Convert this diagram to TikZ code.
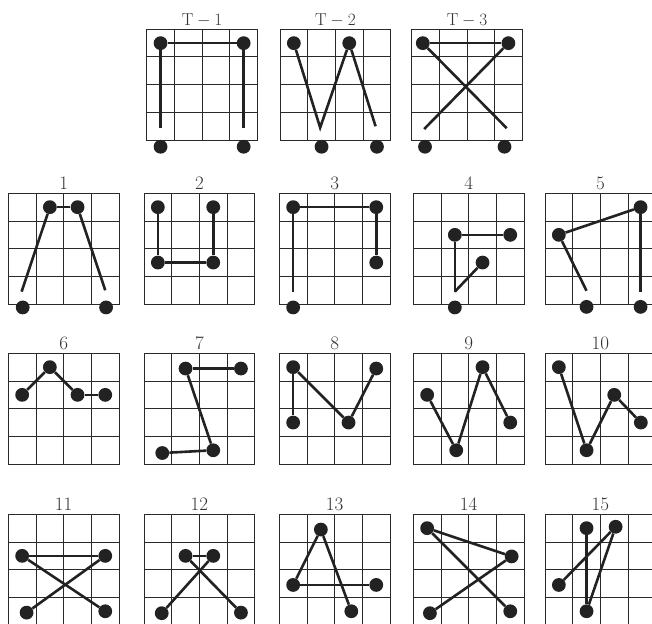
\documentclass[tikz,border=0pt]{standalone}
\usepackage{tikz}
\definecolor{inkc}{HTML}{222222}
\definecolor{gridc}{HTML}{2A2A2A}
\definecolor{textc}{HTML}{333333}
\tikzset{
  gridln/.style={line width=1pt, draw=gridc},
  conn/.style={line width=2.6pt, draw=inkc},
  dot/.style={circle, fill=inkc, inner sep=0pt, minimum size=13.8pt},
  lbl/.style={anchor=base, font=\fontsize{19}{21}\selectfont, text=textc, inner sep=0pt},
  panel/.style={x=27.7pt, y=-27.7pt},
}
\newcommand\cellgrid{\draw[gridln] (0,0) rectangle (4,4)
  (1,0) -- (1,4) (2,0) -- (2,4) (3,0) -- (3,4)
  (0,1) -- (4,1) (0,2) -- (4,2) (0,3) -- (4,3);}
\begin{document}
\begin{tikzpicture}[x=1pt,y=-1pt]
\useasboundingbox (0,0) rectangle (652,623);
\clip (0,0) rectangle (652,623);
% ---------- T-1
\begin{scope}[shift={(146.7,29.3)}, panel]
\cellgrid
\node[lbl] (lt1) at (2,-0.14) {$\mathrm{T}-1$};
\node[dot] (t1a) at (0.5,0.5) {};
\node[dot] (t1b) at (3.5,0.5) {};
\node[dot] (t1c) at (0.5,4.24) {};
\node[dot] (t1d) at (3.5,4.24) {};
\coordinate (t1e) at (0.5,3.55);
\coordinate (t1f) at (3.5,3.55);
\draw[conn] (t1a) -- (t1b);
\draw[conn] (t1a) -- (t1e);
\draw[conn] (t1b) -- (t1f);
\end{scope}
% ---------- T-2
\begin{scope}[shift={(280,29.3)}, panel]
\cellgrid
\node[lbl] (lt2) at (2,-0.14) {$\mathrm{T}-2$};
\node[dot] (t2a) at (0.5,0.5) {};
\node[dot] (t2b) at (2.5,0.5) {};
\node[dot] (t2c) at (1.5,4.24) {};
\node[dot] (t2d) at (3.5,4.24) {};
\coordinate (t2e) at (1.45,3.55);
\coordinate (t2f) at (3.45,3.5);
\draw[conn] (t2a) -- (t2e) -- (t2b);
\draw[conn] (t2b) -- (t2f);
\end{scope}
% ---------- T-3
\begin{scope}[shift={(411.7,29.3)}, panel]
\cellgrid
\node[lbl] (lt3) at (2,-0.14) {$\mathrm{T}-3$};
\node[dot] (t3a) at (0.4,0.5) {};
\node[dot] (t3b) at (3.49,0.5) {};
\node[dot] (t3c) at (0.48,4.24) {};
\node[dot] (t3d) at (3.35,4.24) {};
\coordinate (t3e) at (3.43,3.57);
\coordinate (t3f) at (0.45,3.6);
\draw[conn] (t3a) -- (t3b);
\draw[conn] (t3a) -- (t3e);
\draw[conn] (t3b) -- (t3f);
\end{scope}
% ---------- 1
\begin{scope}[shift={(8.3,193.3)}, panel]
\cellgrid
\node[lbl] (l1) at (2,-0.14) {1};
\node[dot] (p1a) at (1.5,0.5) {};
\node[dot] (p1b) at (2.5,0.5) {};
\node[dot] (p1c) at (0.52,4.12) {};
\node[dot] (p1d) at (3.53,4.12) {};
\coordinate (p1e) at (0.48,3.55);
\coordinate (p1f) at (3.5,3.5);
\draw[conn] (p1a) -- (p1b);
\draw[conn] (p1a) -- (p1e);
\draw[conn] (p1b) -- (p1f);
\end{scope}
% ---------- 2
\begin{scope}[shift={(144,193.3)}, panel]
\cellgrid
\node[lbl] (l2) at (2,-0.14) {2};
\node[dot] (p2a) at (0.5,0.5) {};
\node[dot] (p2b) at (2.5,0.5) {};
\node[dot] (p2c) at (0.5,2.5) {};
\node[dot] (p2d) at (2.5,2.5) {};
\draw[conn] (p2a) -- (p2c);
\draw[conn] (p2c) -- (p2d);
\draw[conn] (p2d) -- (p2b);
\end{scope}
% ---------- 3
\begin{scope}[shift={(279.3,193.3)}, panel]
\cellgrid
\node[lbl] (l3) at (2,-0.14) {3};
\node[dot] (p3a) at (0.5,0.5) {};
\node[dot] (p3b) at (3.5,0.5) {};
\node[dot] (p3c) at (3.5,2.5) {};
\node[dot] (p3d) at (0.5,4.12) {};
\coordinate (p3e) at (0.5,3.55);
\draw[conn] (p3a) -- (p3b);
\draw[conn] (p3b) -- (p3c);
\draw[conn] (p3a) -- (p3e);
\end{scope}
% ---------- 4
\begin{scope}[shift={(413.3,193.3)}, panel]
\cellgrid
\node[lbl] (l4) at (2,-0.14) {4};
\node[dot] (p4a) at (1.5,1.5) {};
\node[dot] (p4b) at (3.5,1.5) {};
\node[dot] (p4c) at (2.5,2.5) {};
\node[dot] (p4d) at (1.5,4.12) {};
\coordinate (p4e) at (1.5,3.55);
\draw[conn] (p4a) -- (p4b);
\draw[conn] (p4a) -- (p4e);
\draw[conn] (p4e) -- (p4c);
\end{scope}
% ---------- 5
\begin{scope}[shift={(545,193.3)}, panel]
\cellgrid
\node[lbl] (l5) at (2,-0.14) {5};
\node[dot] (p5a) at (0.5,1.5) {};
\node[dot] (p5b) at (3.45,0.5) {};
\node[dot] (p5c) at (1.5,4.1) {};
\node[dot] (p5d) at (3.45,4.1) {};
\coordinate (p5e) at (1.5,3.52);
\coordinate (p5f) at (3.45,3.55);
\draw[conn] (p5a) -- (p5b);
\draw[conn] (p5a) -- (p5e);
\draw[conn] (p5b) -- (p5f);
\end{scope}
% ---------- 6
\begin{scope}[shift={(8.3,353.3)}, panel]
\cellgrid
\node[lbl] (l6) at (2,-0.14) {6};
\node[dot] (p6a) at (0.5,1.5) {};
\node[dot] (p6b) at (1.5,0.5) {};
\node[dot] (p6c) at (2.5,1.5) {};
\node[dot] (p6d) at (3.5,1.5) {};
\draw[conn] (p6a) -- (p6b);
\draw[conn] (p6b) -- (p6c);
\draw[conn] (p6c) -- (p6d);
\end{scope}
% ---------- 7
\begin{scope}[shift={(144,353.3)}, panel]
\cellgrid
\node[lbl] (l7) at (2,-0.14) {7};
\node[dot] (p7a) at (1.5,0.55) {};
\node[dot] (p7b) at (3.5,0.55) {};
\node[dot] (p7c) at (2.5,3.5) {};
\node[dot] (p7d) at (0.66,3.6) {};
\draw[conn] (p7a) -- (p7b);
\draw[conn] (p7a) -- (p7c);
\draw[conn] (p7c) -- (p7d);
\end{scope}
% ---------- 8
\begin{scope}[shift={(279.3,353.3)}, panel]
\cellgrid
\node[lbl] (l8) at (2,-0.14) {8};
\node[dot] (p8a) at (0.5,0.5) {};
\node[dot] (p8b) at (0.5,2.5) {};
\node[dot] (p8c) at (2.5,2.5) {};
\node[dot] (p8d) at (3.5,0.55) {};
\draw[conn] (p8a) -- (p8b);
\draw[conn] (p8a) -- (p8c);
\draw[conn] (p8c) -- (p8d);
\end{scope}
% ---------- 9
\begin{scope}[shift={(413.3,353.3)}, panel]
\cellgrid
\node[lbl] (l9) at (2,-0.14) {9};
\node[dot] (p9a) at (0.5,1.5) {};
\node[dot] (p9b) at (1.55,3.5) {};
\node[dot] (p9c) at (2.5,0.5) {};
\node[dot] (p9d) at (3.5,2.5) {};
\draw[conn] (p9a) -- (p9b);
\draw[conn] (p9b) -- (p9c);
\draw[conn] (p9c) -- (p9d);
\end{scope}
% ---------- 10
\begin{scope}[shift={(545,353.3)}, panel]
\cellgrid
\node[lbl] (l10) at (2,-0.14) {10};
\node[dot] (p10a) at (0.5,0.5) {};
\node[dot] (p10b) at (1.5,3.5) {};
\node[dot] (p10c) at (2.5,1.5) {};
\node[dot] (p10d) at (3.46,2.5) {};
\draw[conn] (p10a) -- (p10b);
\draw[conn] (p10b) -- (p10c);
\draw[conn] (p10c) -- (p10d);
\end{scope}
% ---------- 11
\begin{scope}[shift={(8.3,514.3)}, panel]
\cellgrid
\node[lbl] (l11) at (2,-0.14) {11};
\node[dot] (p11a) at (0.5,1.5) {};
\node[dot] (p11b) at (3.5,1.5) {};
\node[dot] (p11c) at (0.66,3.55) {};
\node[dot] (p11d) at (3.5,3.5) {};
\draw[conn] (p11a) -- (p11b);
\draw[conn] (p11a) -- (p11d);
\draw[conn] (p11b) -- (p11c);
\end{scope}
% ---------- 12
\begin{scope}[shift={(144,514.3)}, panel]
\cellgrid
\node[lbl] (l12) at (2,-0.14) {12};
\node[dot] (p12a) at (1.5,1.5) {};
\node[dot] (p12b) at (2.5,1.5) {};
\node[dot] (p12c) at (0.64,3.57) {};
\node[dot] (p12d) at (3.5,3.55) {};
\draw[conn] (p12a) -- (p12b);
\draw[conn] (p12a) -- (p12d);
\draw[conn] (p12b) -- (p12c);
\end{scope}
% ---------- 13
\begin{scope}[shift={(279.3,514.3)}, panel]
\cellgrid
\node[lbl] (l13) at (2,-0.14) {13};
\node[dot] (p13a) at (1.5,0.55) {};
\node[dot] (p13b) at (0.5,2.55) {};
\node[dot] (p13c) at (3.5,2.55) {};
\node[dot] (p13d) at (2.6,3.5) {};
\draw[conn] (p13a) -- (p13b);
\draw[conn] (p13b) -- (p13c);
\draw[conn] (p13a) -- (p13d);
\end{scope}
% ---------- 14
\begin{scope}[shift={(413.3,514.3)}, panel]
\cellgrid
\node[lbl] (l14) at (2,-0.14) {14};
\node[dot] (p14a) at (0.5,0.5) {};
\node[dot] (p14b) at (3.55,1.52) {};
\node[dot] (p14c) at (0.6,3.57) {};
\node[dot] (p14d) at (3.5,3.5) {};
\draw[conn] (p14a) -- (p14b);
\draw[conn] (p14a) -- (p14d);
\draw[conn] (p14b) -- (p14c);
\end{scope}
% ---------- 15
\begin{scope}[shift={(545,514.3)}, panel]
\cellgrid
\node[lbl] (l15) at (2,-0.14) {15};
\node[dot] (p15a) at (1.5,0.5) {};
\node[dot] (p15b) at (2.55,0.45) {};
\node[dot] (p15c) at (0.5,2.55) {};
\node[dot] (p15d) at (1.5,3.5) {};
\draw[conn] (p15a) -- (p15d);
\draw[conn] (p15b) -- (p15d);
\draw[conn] (p15b) -- (p15c);
\end{scope}
\end{tikzpicture}
\end{document}
